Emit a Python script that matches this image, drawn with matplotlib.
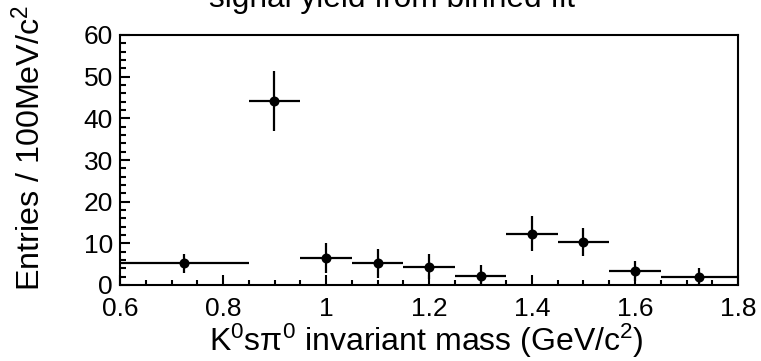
import matplotlib
matplotlib.use("Agg")
import matplotlib.pyplot as plt
from matplotlib.ticker import MultipleLocator
import numpy as np

plt.rcParams['font.family'] = ['Liberation Sans', 'DejaVu Sans']
plt.rcParams['mathtext.fontset'] = 'custom'
plt.rcParams['mathtext.rm'] = 'Liberation Sans'
plt.rcParams['mathtext.it'] = 'Liberation Sans:italic'
plt.rcParams['mathtext.default'] = 'regular'

# K0s pi0 mass bins (GeV/c^2) and fitted signal yields per bin
bin_low = [0.60, 0.85, 0.95, 1.05, 1.15, 1.25, 1.35, 1.45, 1.55, 1.65]
bin_high = [0.85, 0.95, 1.05, 1.15, 1.25, 1.35, 1.45, 1.55, 1.65, 1.80]
yields = [5.2, 44.2, 6.6, 5.2, 4.4, 2.2, 12.3, 10.3, 3.3, 2.0]
yield_err = [2.3, 7.2, 3.6, 3.4, 3.0, 2.6, 4.2, 3.4, 2.4, 2.1]

x_ticks = [0.6, 0.8, 1.0, 1.2, 1.4, 1.6, 1.8]
x_tick_labels = ["0.6", "0.8", "1", "1.2", "1.4", "1.6", "1.8"]
y_ticks = [0, 10, 20, 30, 40, 50, 60]

lo = np.array(bin_low)
hi = np.array(bin_high)
centers = 0.5 * (lo + hi)
xerr = np.vstack([centers - lo, hi - centers])

W, H = 761, 361
fig = plt.figure(figsize=(W / 100, H / 100), dpi=100)
ax = fig.add_axes([120 / W, (H - 285) / H, (738 - 120) / W, (285 - 35) / H])

ax.errorbar(centers, yields, yerr=yield_err, xerr=xerr, fmt='o', color='black',
            ms=7.2, elinewidth=1.6, capsize=0, markeredgewidth=0)

ax.set_xlim(0.6, 1.8)
ax.set_ylim(0, 60)
ax.set_xticks(x_ticks)
ax.set_xticklabels(x_tick_labels)
ax.set_yticks(y_ticks)
ax.xaxis.set_minor_locator(MultipleLocator(0.05))
ax.yaxis.set_minor_locator(MultipleLocator(2))

for s in ax.spines.values():
    s.set_linewidth(1.5)
ax.tick_params(which='both', direction='in', top=False, right=False,
               width=1.5, labelsize=19)
ax.tick_params(axis='x', which='major', length=7.5, pad=9)
ax.tick_params(axis='x', which='minor', length=3.8)
ax.tick_params(axis='y', which='major', length=7.5, pad=5)
ax.tick_params(axis='y', which='minor', length=4)

ax.set_xlabel(r"K$^{0}$s$\pi^{0}$ invariant mass (GeV/c$^{2}$)", fontsize=23,
              va='baseline')
ax.xaxis.set_label_coords(0.496, -0.262)
ax.set_ylabel(r"Entries / 100MeV/c$^{2}$", fontsize=23.2, va='baseline')
ax.yaxis.set_label_coords(-0.128, 0.55)

fig.text(392 / W, (H - 7) / H, "signal yield from binned fit", fontsize=22.8,
         ha='center', va='baseline')

fig.savefig("out.png", dpi=100)
